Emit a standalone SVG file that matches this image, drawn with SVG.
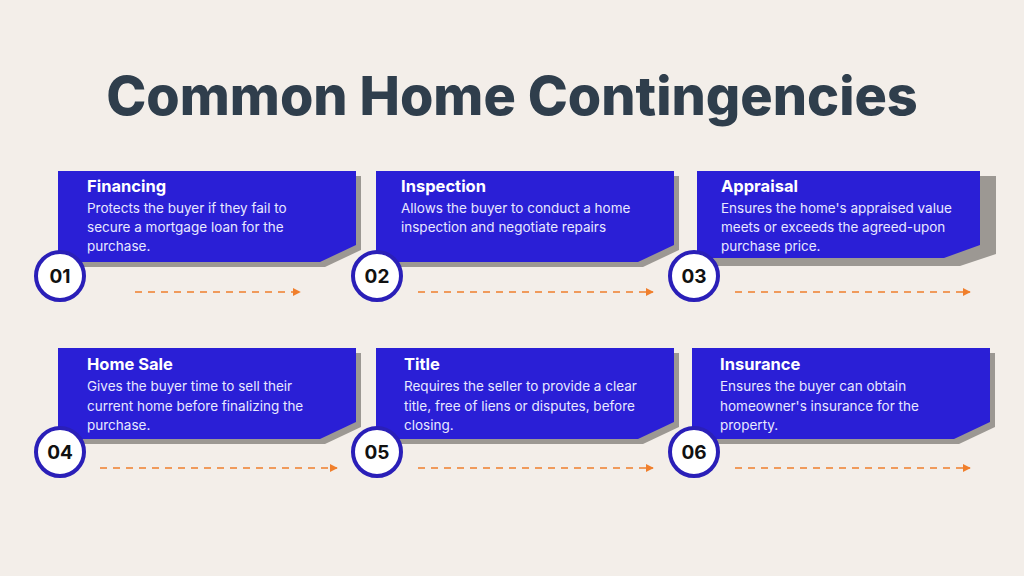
<svg xmlns="http://www.w3.org/2000/svg" width="1024" height="576" viewBox="0 0 1024 576">
<defs>
<style>
.card{fill:#2a1fd6}
.sh{fill:#9c9893}
.num{fill:#fff;stroke:#2a1fb8;stroke-width:4}
.nt{font-family:Inter,"Liberation Sans",sans-serif;font-weight:700;font-size:19px;fill:#111;text-anchor:middle}
.h{font-family:Inter,"Liberation Sans",sans-serif;font-weight:700;font-size:16.5px;fill:#fff}
.b{font-family:Inter,"Liberation Sans",sans-serif;font-size:13.5px;fill:#e8e8ff}
.ar{stroke:#f07f2c;stroke-width:1.6;stroke-dasharray:7 6;fill:none;marker-end:url(#ah)}
</style>
<marker id="ah" viewBox="0 0 10 10" refX="9" refY="5" markerWidth="5" markerHeight="5" orient="auto"><path d="M0,0L10,5L0,10Z" fill="#f07f2c"/></marker>
</defs>
<rect width="1024" height="576" fill="#f3eee9"/>
<text x="512" y="115" text-anchor="middle" font-family="Inter,'Liberation Sans',sans-serif" font-weight="800" font-size="54" fill="#2f3e4c">Common Home Contingencies</text>
<g id="connectors">
<path class="ar" d="M135,292H300"/>
<path class="ar" d="M418,292H653"/>
<path class="ar" d="M735,292H970"/>
<path class="ar" d="M100,468H337"/>
<path class="ar" d="M418,468H653"/>
<path class="ar" d="M735,468H970"/>
</g>
<g id="n1"><path class="sh" d="M63,176H361V250L325,267H63Z"/><path class="card" d="M58,171H356V245L320,262H58Z"/>
<text class="h" x="87" y="192">Financing</text><text class="b"><tspan x="87" y="213">Protects the buyer if they fail to</tspan><tspan x="87" y="232">secure a mortgage loan for the</tspan><tspan x="87" y="251">purchase.</tspan></text>
<circle class="num" cx="60" cy="276" r="24"/><text class="nt" x="60" y="283">01</text></g>
<g id="n2"><path class="sh" d="M381,176H679V250L643,267H381Z"/><path class="card" d="M376,171H674V245L638,262H376Z"/>
<text class="h" x="401" y="192">Inspection</text><text class="b"><tspan x="401" y="213">Allows the buyer to conduct a home</tspan><tspan x="401" y="232">inspection and negotiate repairs</tspan></text>
<circle class="num" cx="377" cy="276" r="24"/><text class="nt" x="377" y="283">02</text></g>
<g id="n3"><path class="sh" d="M712,176H996V254L960,266H712Z"/><path class="card" d="M697,171H980V245L944,258H697Z"/>
<text class="h" x="721" y="192">Appraisal</text><text class="b"><tspan x="721" y="213">Ensures the home's appraised value</tspan><tspan x="721" y="232">meets or exceeds the agreed-upon</tspan><tspan x="721" y="251">purchase price.</tspan></text>
<circle class="num" cx="694" cy="276" r="24"/><text class="nt" x="694" y="283">03</text></g>
<g id="n4"><path class="sh" d="M63,353H361V427L325,444H63Z"/><path class="card" d="M58,348H356V422L320,439H58Z"/>
<text class="h" x="87" y="370">Home Sale</text><text class="b"><tspan x="87" y="391">Gives the buyer time to sell their</tspan><tspan x="87" y="411">current home before finalizing the</tspan><tspan x="87" y="430">purchase.</tspan></text>
<circle class="num" cx="60" cy="452" r="24"/><text class="nt" x="60" y="459">04</text></g>
<g id="n5"><path class="sh" d="M381,353H679V427L643,444H381Z"/><path class="card" d="M376,348H674V422L638,439H376Z"/>
<text class="h" x="404" y="370">Title</text><text class="b"><tspan x="404" y="391">Requires the seller to provide a clear</tspan><tspan x="404" y="411">title, free of liens or disputes, before</tspan><tspan x="404" y="430">closing.</tspan></text>
<circle class="num" cx="377" cy="452" r="24"/><text class="nt" x="377" y="459">05</text></g>
<g id="n6"><path class="sh" d="M697,353H995V427L959,444H697Z"/><path class="card" d="M692,348H990V422L954,439H692Z"/>
<text class="h" x="720" y="370">Insurance</text><text class="b"><tspan x="720" y="391">Ensures the buyer can obtain</tspan><tspan x="720" y="411">homeowner's insurance for the</tspan><tspan x="720" y="430">property.</tspan></text>
<circle class="num" cx="694" cy="452" r="24"/><text class="nt" x="694" y="459">06</text></g>
</svg>
